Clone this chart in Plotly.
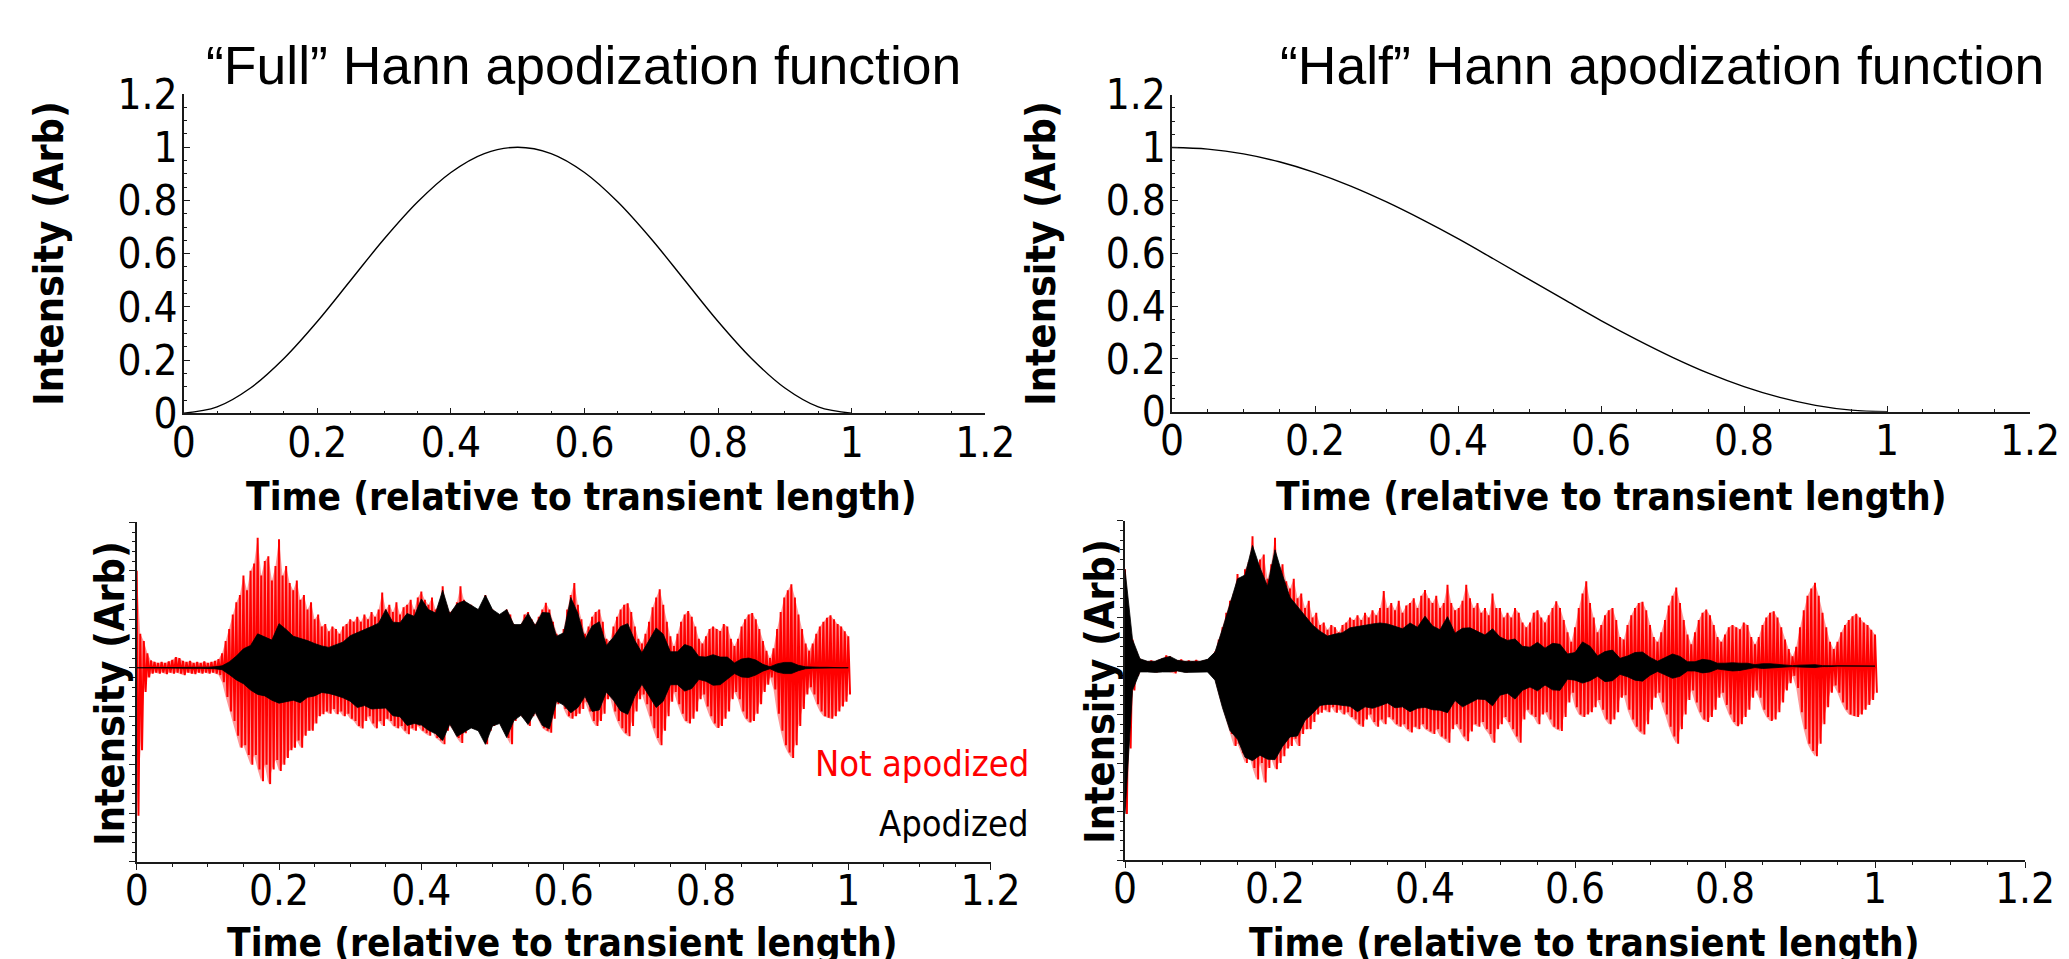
import numpy as np
import plotly.graph_objects as go

# ---------------- data ----------------
# Hann apodization functions (read at 0.05 steps)
hann_time = [round(0.05 * i, 2) for i in range(21)]
full_hann = [0, 0.024, 0.095, 0.206, 0.345, 0.5, 0.655, 0.794, 0.905, 0.976, 1.0,
             0.976, 0.905, 0.794, 0.655, 0.5, 0.345, 0.206, 0.095, 0.024, 0]
half_hann = [1.0, 0.994, 0.976, 0.946, 0.905, 0.854, 0.794, 0.727, 0.655, 0.578, 0.5,
             0.422, 0.345, 0.273, 0.206, 0.146, 0.095, 0.054, 0.024, 0.006, 0]

# Transient envelope, not apodized (read every 0.005 of transient length)
raw_time = [round(0.005 * i, 3) for i in range(201)]
raw_upper = [2.0, 0.7, 0.55, 0.3, 0.15, 0.12, 0.1, 0.12, 0.1, 0.13,
             0.16, 0.22, 0.2, 0.14, 0.12, 0.14, 0.1, 0.12, 0.1, 0.13,
             0.1, 0.12, 0.14, 0.18, 0.3, 0.55, 0.8, 1.1, 1.35, 1.5,
             1.9, 1.6, 2.0, 2.15, 2.68, 1.9, 2.2, 2.3, 1.8, 2.1,
             2.65, 1.9, 2.1, 1.75, 1.6, 1.8, 1.4, 1.5, 1.2, 1.35,
             1.0, 1.1, 0.85, 0.9, 0.75, 0.85, 0.8, 0.7, 0.85, 0.9,
             1.0, 0.95, 1.05, 0.95, 1.1, 1.0, 1.15, 1.05, 1.2, 1.55,
             1.2, 1.3, 1.15, 1.35, 1.1, 1.25, 1.3, 1.4, 1.2, 1.45,
             1.57, 1.4, 1.3, 1.45, 1.2, 1.3, 1.68, 1.3, 1.15, 1.2,
             1.35, 1.68, 1.4, 1.2, 1.3, 1.1, 1.2, 1.05, 1.5, 1.2,
             1.2, 1.0, 1.1, 1.0, 1.2, 1.1, 0.9, 0.8, 0.9, 1.1,
             1.15, 1.0, 0.9, 1.05, 1.2, 1.34, 1.2, 0.95, 0.7, 0.5,
             0.8, 1.2, 1.5, 1.75, 1.3, 1.0, 0.7, 0.85, 1.05, 1.15,
             1.2, 0.95, 0.6, 0.55, 0.85, 1.05, 1.2, 1.3, 1.33, 1.15,
             0.85, 0.6, 0.5, 0.7, 0.95, 1.25, 1.45, 1.62, 1.3, 0.95,
             0.65, 0.45, 0.7, 0.95, 1.1, 1.17, 1.05, 0.85, 0.6, 0.5,
             0.65, 0.8, 0.85, 0.8, 0.76, 0.9, 0.85, 0.6, 0.45, 0.6,
             0.85, 1.0, 1.1, 1.13, 1.0, 0.8, 0.55, 0.35, 0.2, 0.4,
             0.8, 1.15, 1.45, 1.6, 1.72, 1.45, 1.1, 0.8, 0.5, 0.35,
             0.5, 0.7, 0.85, 0.95, 1.03, 1.08, 1.0, 0.9, 0.85, 0.75,
             0.65]
raw_lower = [-3.05, -1.7, -0.5, -0.2, -0.12, -0.1, -0.12, -0.1, -0.13, -0.1,
             -0.12, -0.1, -0.12, -0.15, -0.1, -0.12, -0.13, -0.1, -0.12, -0.1,
             -0.12, -0.1, -0.12, -0.15, -0.3, -0.6, -0.9, -1.1, -1.4, -1.65,
             -1.6, -1.8, -2.0, -1.8, -2.1, -2.34, -2.0, -2.4, -2.1, -1.9,
             -2.13, -2.0, -1.86, -1.7, -1.65, -1.5, -1.65, -1.4, -1.3, -1.3,
             -1.15, -1.0, -0.96, -0.9, -0.95, -0.85, -0.96, -0.9, -1.0, -0.95,
             -1.05, -1.1, -1.2, -1.25, -1.1, -1.0, -1.15, -1.25, -1.1, -1.2,
             -1.05, -1.1, -1.2, -1.25, -1.2, -1.3, -1.37, -1.25, -1.3, -1.2,
             -1.3, -1.35, -1.4, -1.3, -1.45, -1.5, -1.58, -1.3, -1.2, -1.3,
             -1.45, -1.55, -1.35, -1.2, -1.25, -1.15, -1.3, -1.4, -1.58, -1.3,
             -1.2, -1.05, -1.15, -1.3, -1.45, -1.58, -1.1, -0.9, -1.0, -1.05,
             -1.2, -1.0, -0.95, -1.1, -1.25, -1.3, -1.34, -1.05, -0.75, -0.55,
             -0.85, -1.0, -1.05, -1.0, -0.95, -0.85, -0.7, -0.9, -1.1, -1.2,
             -1.1, -0.95, -0.65, -0.6, -0.9, -1.1, -1.25, -1.35, -1.41, -1.2,
             -0.9, -0.65, -0.55, -0.75, -1.0, -1.25, -1.45, -1.6, -1.3, -1.0,
             -0.7, -0.5, -0.75, -0.95, -1.1, -1.15, -1.05, -0.9, -0.65, -0.55,
             -0.8, -1.0, -1.15, -1.24, -1.2, -1.05, -0.9, -0.65, -0.5, -0.65,
             -0.9, -1.05, -1.13, -1.1, -0.95, -0.75, -0.5, -0.35, -0.2, -0.45,
             -0.95, -1.3, -1.6, -1.75, -1.86, -1.6, -1.2, -0.85, -0.55, -0.4,
             -0.55, -0.75, -0.9, -1.0, -1.03, -1.05, -1.0, -0.9, -0.8, -0.7,
             -0.55]

# Apodized transient envelopes (read every 0.01 of transient length)
apod_time = [round(0.01 * i, 2) for i in range(101)]
full_apod_upper = [0.0, 0.0, 0.0, 0.0, 0.0, 0.0, 0.01, 0.01, 0.01, 0.01,
                   0.01, 0.02, 0.04, 0.12, 0.24, 0.39, 0.46, 0.7, 0.64, 0.57,
                   0.91, 0.79, 0.65, 0.61, 0.56, 0.5, 0.45, 0.42, 0.48, 0.53,
                   0.66, 0.72, 0.78, 0.85, 0.92, 1.2, 0.94, 0.93, 1.12, 1.06,
                   1.42, 1.2, 1.13, 1.6, 1.11, 1.32, 1.38, 1.29, 1.2, 1.5,
                   1.2, 1.1, 1.2, 0.89, 0.89, 1.12, 0.87, 1.14, 1.13, 0.65,
                   0.72, 1.45, 1.12, 0.59, 0.86, 0.95, 0.46, 0.63, 0.85, 0.91,
                   0.56, 0.31, 0.56, 0.82, 0.69, 0.33, 0.33, 0.48, 0.43, 0.23,
                   0.22, 0.27, 0.22, 0.22, 0.1, 0.18, 0.2, 0.16, 0.07, 0.02,
                   0.08, 0.11, 0.11, 0.05, 0.02, 0.01, 0.01, 0.01, 0.0, 0.0,
                   0.0]
full_apod_lower = [0.0, 0.0, 0.0, 0.0, 0.0, 0.0, -0.01, -0.01, -0.01, -0.01,
                   -0.01, -0.02, -0.04, -0.14, -0.25, -0.33, -0.46, -0.55, -0.58, -0.67,
                   -0.73, -0.7, -0.67, -0.72, -0.61, -0.58, -0.51, -0.53, -0.57, -0.62,
                   -0.69, -0.82, -0.78, -0.85, -0.84, -0.83, -0.99, -1.01, -1.19, -1.15,
                   -1.18, -1.29, -1.36, -1.5, -1.16, -1.42, -1.33, -1.24, -1.3, -1.58,
                   -1.2, -1.15, -1.44, -1.09, -0.98, -1.17, -0.92, -1.19, -1.26, -0.69,
                   -0.77, -0.93, -0.82, -0.59, -0.9, -0.87, -0.5, -0.67, -0.89, -0.96,
                   -0.59, -0.34, -0.59, -0.82, -0.69, -0.35, -0.35, -0.48, -0.43, -0.24,
                   -0.28, -0.36, -0.35, -0.23, -0.12, -0.19, -0.2, -0.15, -0.07, -0.02,
                   -0.09, -0.12, -0.12, -0.06, -0.02, -0.01, -0.01, -0.01, 0.0, 0.0,
                   0.0]
half_apod_upper = [2.0, 0.55, 0.15, 0.1, 0.1, 0.16, 0.2, 0.12, 0.1, 0.1,
                   0.1, 0.14, 0.29, 0.77, 1.29, 1.8, 1.88, 2.49, 2.03, 1.65,
                   2.4, 1.88, 1.42, 1.23, 1.04, 0.85, 0.72, 0.62, 0.66, 0.69,
                   0.79, 0.82, 0.84, 0.87, 0.89, 0.87, 0.82, 0.77, 0.89, 0.8,
                   1.03, 0.83, 0.75, 1.02, 0.68, 0.78, 0.79, 0.71, 0.64, 0.77,
                   0.6, 0.53, 0.56, 0.41, 0.39, 0.49, 0.37, 0.47, 0.45, 0.25,
                   0.28, 0.5, 0.41, 0.21, 0.3, 0.33, 0.16, 0.21, 0.28, 0.29,
                   0.18, 0.1, 0.17, 0.25, 0.2, 0.09, 0.09, 0.14, 0.12, 0.06,
                   0.06, 0.07, 0.06, 0.06, 0.03, 0.05, 0.05, 0.04, 0.02, 0.01,
                   0.02, 0.03, 0.03, 0.01, 0.01, 0.0, 0.0, 0.0, 0.0, 0.0,
                   0.0]
half_apod_lower = [-3.05, -0.5, -0.12, -0.12, -0.13, -0.12, -0.12, -0.1, -0.13, -0.12,
                   -0.12, -0.12, -0.29, -0.86, -1.33, -1.51, -1.88, -1.95, -1.84, -1.92,
                   -1.93, -1.66, -1.46, -1.44, -1.12, -0.98, -0.81, -0.79, -0.79, -0.81,
                   -0.83, -0.94, -0.84, -0.87, -0.82, -0.76, -0.86, -0.84, -0.94, -0.87,
                   -0.85, -0.9, -0.91, -0.96, -0.71, -0.84, -0.76, -0.68, -0.69, -0.82,
                   -0.6, -0.56, -0.68, -0.5, -0.43, -0.51, -0.39, -0.49, -0.5, -0.27,
                   -0.29, -0.35, -0.3, -0.21, -0.32, -0.3, -0.17, -0.22, -0.29, -0.31,
                   -0.19, -0.11, -0.18, -0.25, -0.21, -0.1, -0.1, -0.14, -0.12, -0.06,
                   -0.08, -0.1, -0.09, -0.06, -0.03, -0.05, -0.05, -0.04, -0.02, -0.01,
                   -0.02, -0.03, -0.03, -0.01, -0.01, 0.0, 0.0, 0.0, 0.0, 0.0,
                   0.0]

titles = ["\u201cFull\u201d Hann apodization function", "\u201cHalf\u201d Hann apodization function"]
x_title = "Time (relative to transient length)"
y_title = "Intensity (Arb)"
legend_labels = ["Not apodized", "Apodized"]

# ---------------- layout helpers ----------------
# the page body adds an 8 px margin; positions below are page pixels
OFF = 8
W, H = 2069 - OFF, 959 - OFF
def px(x):
    return (x - OFF) / W
def py(y):
    return 1 - (y - OFF) / H

TICK_FONT = "DejaVu Sans Condensed, DejaVu Sans, sans-serif"
TITLE_FONT = "Liberation Sans, Arial, sans-serif"
AX = "#1a1a1a"

fig = go.Figure()

# top panels: apodization functions
fig.add_trace(go.Scatter(x=hann_time, y=full_hann, mode="lines", line=dict(color="black", width=1.4, shape="spline"),
                         xaxis="x", yaxis="y", showlegend=False))
fig.add_trace(go.Scatter(x=hann_time, y=half_hann, mode="lines", line=dict(color="black", width=1.4, shape="spline"),
                         xaxis="x2", yaxis="y2", showlegend=False))

def oscillation(t, up, lo, color, xa, ya, width):
    # draw each read envelope sample as one up/down swing of the transient
    step = (t[1] - t[0]) / 2.0
    xs, ys = [], []
    for ti, u, l in zip(t, up, lo):
        xs += [ti, ti + step]
        ys += [u, l]
    return go.Scatter(x=xs, y=ys, mode="lines", line=dict(color=color, width=width),
                      xaxis=xa, yaxis=ya, showlegend=False, hoverinfo="skip")

def envelope(t, up, lo, color, xa, ya, lw=0.8, lc=None):
    xs = list(t) + list(t)[::-1]
    ys = list(up) + list(lo)[::-1]
    return go.Scatter(x=xs, y=ys, mode="lines", fill="toself", fillcolor=color,
                      line=dict(color=lc or color, width=lw), xaxis=xa, yaxis=ya, showlegend=False,
                      hoverinfo="skip")

PINK = "rgba(255,0,0,0.4)"
for xa, ya, up, lo in [("x3", "y3", full_apod_upper, full_apod_lower),
                       ("x4", "y4", half_apod_upper, half_apod_lower)]:
    fig.add_trace(envelope(raw_time, raw_upper, raw_lower, PINK, xa, ya, lw=0))
    fig.add_trace(oscillation(raw_time, raw_upper, raw_lower, "red", xa, ya, 2.0))
    fig.add_trace(envelope(apod_time, up, lo, "black", xa, ya))

def xaxis_cfg(x0, x1, anchor, ticks, standoff):
    return dict(domain=[px(x0), px(x1)], anchor=anchor, range=[0, 1.2], tick0=0, dtick=0.2,
                ticks=ticks, ticklen=6, tickwidth=1.3, tickcolor=AX, automargin=False,
                showline=True, linecolor=AX, linewidth=1.6, showgrid=False, zeroline=False,
                tickfont=dict(family=TICK_FONT, size=42, color="black"),
                minor=dict(dtick=0.05, ticks=ticks, ticklen=3, tickwidth=1, tickcolor=AX),
                ticklabelstandoff=standoff)

def yaxis_cfg(ytop, ybot, anchor, rng, dtick, mdtick, ticks, labels):
    return dict(domain=[py(ybot), py(ytop)], anchor=anchor, range=rng, tick0=0, dtick=dtick,
                ticks=ticks, ticklen=6, tickwidth=1.3, tickcolor=AX, automargin=False,
                showline=True, linecolor=AX, linewidth=1.6, showgrid=False, zeroline=False,
                showticklabels=labels,
                tickfont=dict(family=TICK_FONT, size=42, color="black"),
                minor=dict(dtick=mdtick, ticks=ticks, ticklen=3, tickwidth=1, tickcolor=AX),
                ticklabelstandoff=-4)

fig.update_layout(
    template="none",
    width=W, height=H, margin=dict(l=0, r=0, t=0, b=0, pad=0),
    paper_bgcolor="white", plot_bgcolor="white", showlegend=False,
    xaxis=xaxis_cfg(183.7, 985.3, "y", "inside", -9),
    yaxis=yaxis_cfg(94, 413.3, "x", [0, 1.2], 0.2, 0.05, "inside", True),
    xaxis2=xaxis_cfg(1172, 2030, "y2", "inside", -9),
    yaxis2=yaxis_cfg(94.7, 411.7, "x2", [0, 1.2], 0.2, 0.05, "inside", True),
    xaxis3=xaxis_cfg(136.7, 990.6, "y3", "outside", -15),
    yaxis3=yaxis_cfg(522.3, 861.7, "x3", [-4, 3], 1, 0.2, "outside", False),
    xaxis4=xaxis_cfg(1125, 2025, "y4", "outside", -15),
    yaxis4=yaxis_cfg(520.7, 860, "x4", [-4, 3], 1, 0.2, "outside", False),
)

ann = []
def text(x, y, s, size, family, color="black", bold=False, angle=0, xanchor="center"):
    ann.append(dict(x=px(x), y=py(y), xref="paper", yref="paper", text=(f"<b>{s}</b>" if bold else s),
                    showarrow=False, textangle=angle, xanchor=xanchor, yanchor="middle",
                    font=dict(size=size, family=family, color=color)))

text(583, 66, titles[0], 53.5, TITLE_FONT)
text(1662, 66, titles[1], 53.5, TITLE_FONT)
text(581, 496, x_title, 38.5, TICK_FONT, bold=True)
text(1611, 496, x_title, 38.5, TICK_FONT, bold=True)
text(562, 942, x_title, 38.5, TICK_FONT, bold=True)
text(1584, 942, x_title, 38.5, TICK_FONT, bold=True)
text(49, 254, y_title, 41, TICK_FONT, bold=True, angle=-90)
text(1041, 254, y_title, 41, TICK_FONT, bold=True, angle=-90)
text(110, 694, y_title, 41, TICK_FONT, bold=True, angle=-90)
text(1100, 692, y_title, 41, TICK_FONT, bold=True, angle=-90)
text(1031, 763, legend_labels[0], 36, TICK_FONT, color="red", xanchor="right")
text(1031, 823, legend_labels[1], 36, TICK_FONT, color="black", xanchor="right")
fig.update_layout(annotations=ann)

fig.write_html("out.html")
